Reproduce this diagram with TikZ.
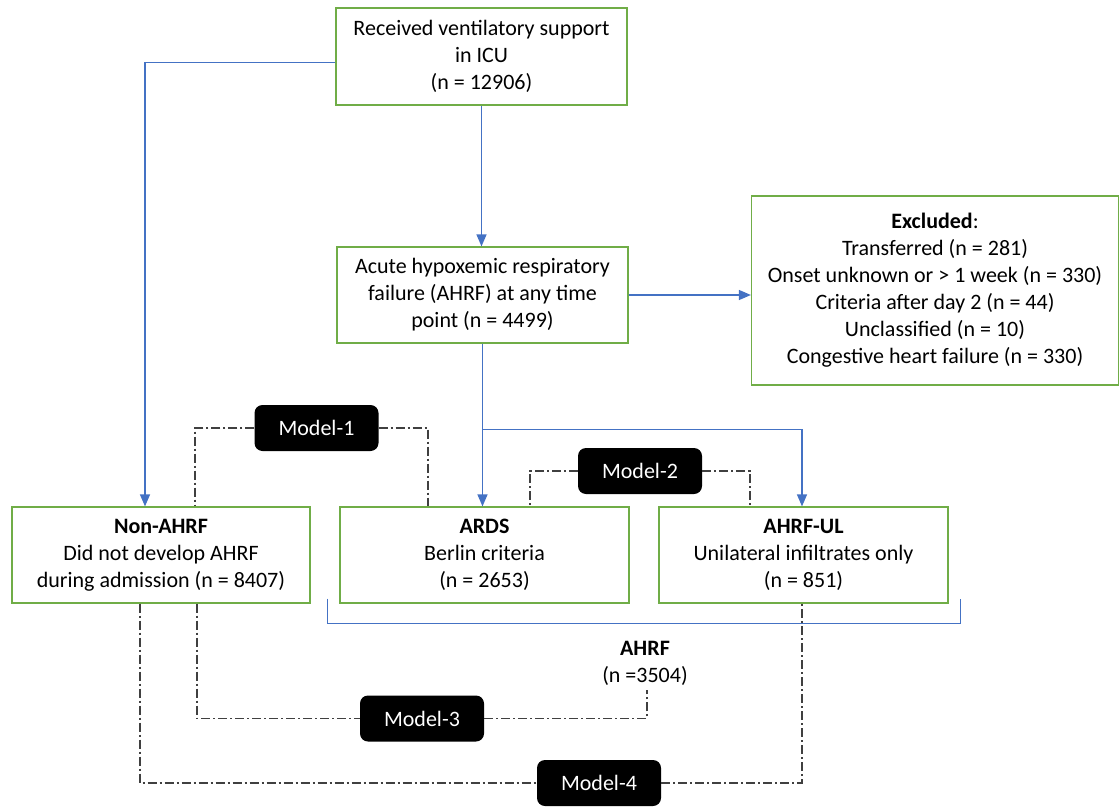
\documentclass[tikz,border=0pt]{standalone}
\usepackage{fontspec}
\setmainfont{Carlito}
\usetikzlibrary{arrows.meta,calc}
\definecolor{boxgreen}{HTML}{70AD47}
\definecolor{lineblue}{HTML}{4472C4}
\definecolor{dashgray}{HTML}{404040}
\begin{document}
\begin{tikzpicture}[x=1pt,y=-1pt,
  box/.style={draw=boxgreen,line width=1.2pt,align=center,inner sep=0pt,font=\fontsize{22}{27}\selectfont},
  model/.style={fill=black,rounded corners=8pt,text=white,minimum width=124pt,minimum height=46pt,inner sep=0pt,font=\fontsize{22}{27}\selectfont},
  flow/.style={draw=lineblue,line width=1.3pt,-{Triangle[length=12pt,width=10pt]}},
  link/.style={draw=dashgray,line width=1.2pt,dash pattern=on 9pt off 3pt on 2pt off 3pt},
  brace/.style={draw=lineblue,line width=1.2pt},
  lab/.style={align=center,inner sep=0pt,font=\fontsize{22}{27}\selectfont}
]
\useasboundingbox (0,0) rectangle (1120,808);

\node[box,minimum width=291pt,minimum height=97pt] (top) at (481.5,56.5)
  {Received ventilatory support\\in ICU\\(n = 12906)};
\node[box,minimum width=291pt,minimum height=96pt] (ahrf) at (482.5,295)
  {Acute hypoxemic respiratory\\failure (AHRF) at any time\\point (n = 4499)};
\node[box,minimum width=367pt,minimum height=189pt] (excl) at (935,290.5)
  {\textbf{Excluded}:\\Transferred (n = 281)\\Onset unknown or > 1 week (n = 330)\\Criteria after day 2 (n = 44)\\Unclassified (n = 10)\\Congestive heart failure (n = 330)};
\node[box,minimum width=298pt,minimum height=96pt] (non) at (161,555)
  {\textbf{Non-AHRF}\\Did not develop AHRF\\during admission (n = 8407)};
\node[box,minimum width=289pt,minimum height=96pt] (ards) at (484.5,555)
  {\textbf{ARDS}\\Berlin criteria\\(n = 2653)};
\node[box,minimum width=289pt,minimum height=96pt] (ul) at (803.5,555)
  {\textbf{AHRF-UL}\\Unilateral infiltrates only\\(n = 851)};

\node[lab] (ahrflab) at (645,663) {\textbf{AHRF}\\(n =3504)};

\node[model] (m1) at (316.5,428) {Model-1};
\node[model] (m2) at (640,471) {Model-2};
\node[model] (m3) at (422,718.5) {Model-3};
\node[model] (m4) at (599,783) {Model-4};

% blue flow arrows
\draw[flow] ([yshift=-6pt]top.west) -| ([xshift=-16pt]non.north);
\draw[flow] (top.south) -- (top.south |- ahrf.north);
\draw[flow] (ahrf.east) -- (ahrf.east -| excl.west);
\coordinate (split) at ($(ahrf.south)+(0,86)$);
\draw[flow] (ahrf.south) -- (ahrf.south |- ards.north);
\draw[flow] (split) -| ([xshift=-1.5pt]ul.north);

% brace under ARDS and AHRF-UL
\draw[brace] ($(ards.south west)+(-12,-5)$) -- ++(0,25) -| ($(ul.south east)+(12,-5)$);

% model links
\draw[link] (m1.west) -| ($(non.north)+(34,0)$);
\draw[link] (m1.east) -| ($(ards.north)+(-56.5,0)$);
\draw[link] (m2.west) -| ($(ards.north)+(45.5,0)$);
\draw[link] (m2.east) -| ($(ul.north)+(-53.5,0)$);
\draw[link] ($(non.south)+(36,0)$) |- (m3.west);
\draw[link] (m3.east) -| ([xshift=2pt,yshift=-5pt]ahrflab.south);
\draw[link] ($(non.south)+(-21,0)$) |- (m4.west);
\draw[link] (m4.east) -| ([xshift=-1.5pt]ul.south);
\end{tikzpicture}
\end{document}
